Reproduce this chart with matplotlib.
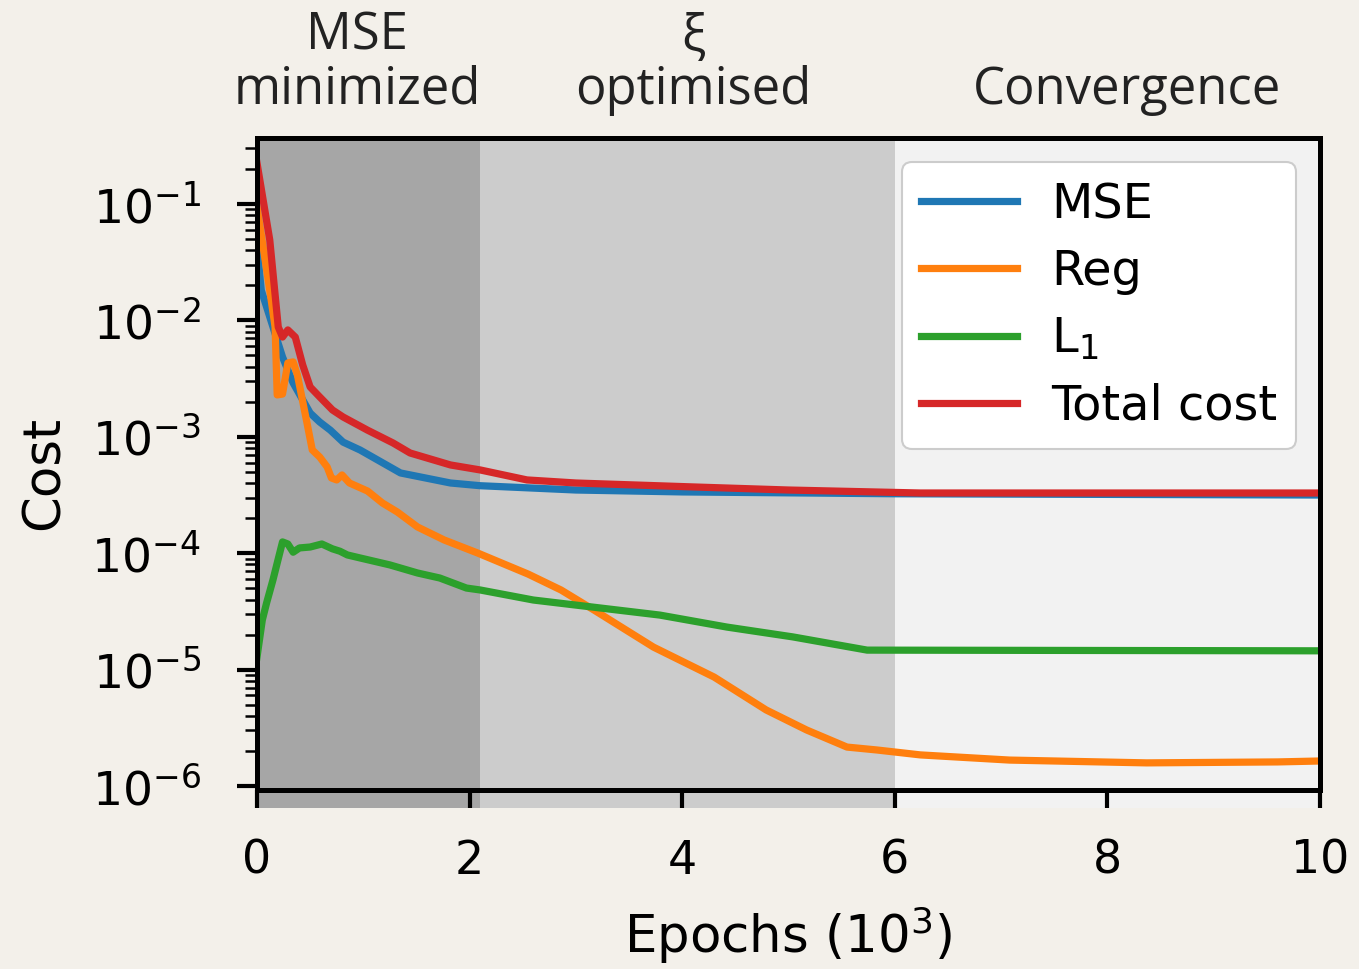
import matplotlib
matplotlib.use('Agg')
import matplotlib.pyplot as plt
from matplotlib.ticker import FixedLocator, LogLocator

# training curves, epochs in units of 10^3
epochs_mse = [0, 0.04, 0.24, 0.34, 0.5, 0.59, 0.69, 0.81, 0.97, 1.35, 1.82,
              2.1, 3.0, 4.0, 6.0, 10.0]
mse = [4.28e-2, 1.82e-2, 4.85e-3, 2.90e-3, 1.60e-3, 1.34e-3, 1.14e-3, 9.0e-4,
       7.7e-4, 4.89e-4, 4.01e-4, 3.80e-4, 3.49e-4, 3.36e-4, 3.24e-4, 3.16e-4]

epochs_reg = [0, 0.12, 0.17, 0.19, 0.24, 0.29, 0.34, 0.38, 0.47, 0.52, 0.59,
              0.66, 0.70, 0.75, 0.80, 0.87, 1.04, 1.18, 1.32, 1.51, 1.76, 2.08,
              2.55, 2.86, 3.17, 3.73, 4.30, 4.79, 5.17, 5.55, 5.83, 6.24, 7.08,
              8.37, 9.60, 10.0]
reg = [9.42e-2, 1.82e-2, 8.77e-3, 2.29e-3, 2.33e-3, 4.31e-3, 4.40e-3, 3.40e-3,
       1.32e-3, 7.71e-4, 6.70e-4, 5.51e-4, 4.43e-4, 4.26e-4, 4.70e-4, 4.01e-4,
       3.42e-4, 2.70e-4, 2.26e-4, 1.68e-4, 1.30e-4, 1.00e-4, 6.62e-5, 4.83e-5,
       3.25e-5, 1.56e-5, 8.63e-6, 4.50e-6, 3.03e-6, 2.16e-6, 2.04e-6, 1.85e-6,
       1.67e-6, 1.58e-6, 1.61e-6, 1.64e-6]

epochs_l1 = [0, 0.05, 0.09, 0.15, 0.24, 0.29, 0.34, 0.40, 0.50, 0.61, 0.71,
             0.78, 0.85, 0.97, 1.25, 1.51, 1.72, 1.97, 2.10, 2.60, 3.79, 4.42,
             5.04, 5.74, 10.0]
l1 = [1.28e-5, 2.67e-5, 3.73e-5, 5.89e-5, 1.25e-4, 1.20e-4, 1.02e-4, 1.11e-4,
      1.13e-4, 1.20e-4, 1.09e-4, 1.04e-4, 9.66e-5, 9.10e-5, 7.93e-5, 6.76e-5,
      6.12e-5, 5.02e-5, 4.83e-5, 3.96e-5, 2.94e-5, 2.32e-5, 1.91e-5, 1.47e-5,
      1.45e-5]

epochs_total = [0, 0.12, 0.20, 0.24, 0.29, 0.36, 0.43, 0.50, 0.59, 0.71, 0.81,
                1.04, 1.28, 1.44, 1.82, 2.10, 2.54, 3.00, 4.10, 5.00, 6.24,
                10.0]
total = [2.25e-1, 4.91e-2, 8.77e-3, 7.19e-3, 8.28e-3, 7.19e-3, 4.14e-3,
         2.68e-3, 2.20e-3, 1.70e-3, 1.48e-3, 1.14e-3, 8.85e-4, 7.26e-4,
         5.73e-4, 5.19e-4, 4.26e-4, 4.01e-4, 3.71e-4, 3.49e-4, 3.29e-4,
         3.29e-4]

phase_edges = [0, 2.1, 6.0, 10.0]
phase_shades = ['#a6a6a6', '#cccccc', '#f2f2f2']
phase_names = [('MSE', 'minimized'), ('ξ', 'optimised'), ('', 'Convergence')]

paper = '#f3f0ea'
ymin, ymax = 10 ** -6.189, 10 ** -0.433
yspine = 9.24e-7

plt.rcParams['font.size'] = 33

fig = plt.figure(figsize=(13.59, 9.69), dpi=100, facecolor=paper)
ax = fig.add_axes([257 / 1359, 1 - 808 / 969, 1063 / 1359, 670 / 969])
ax.set_facecolor('white')

for (a, b), shade in zip(zip(phase_edges[:-1], phase_edges[1:]), phase_shades):
    ax.axvspan(a, b, color=shade, lw=0, zorder=0)

lw = 5.2
ax.plot(epochs_mse, mse, color='tab:blue', lw=lw, label='MSE')
ax.plot(epochs_reg, reg, color='tab:orange', lw=lw, label='Reg')
ax.plot(epochs_l1, l1, color='tab:green', lw=lw, label='L$_1$')
ax.plot(epochs_total, total, color='tab:red', lw=lw, label='Total cost')

ax.set_yscale('log')
ax.set_xlim(0, 10)
ax.set_ylim(ymin, ymax)
ax.set_xticks([0, 2, 4, 6, 8, 10])
ax.yaxis.set_major_locator(LogLocator(base=10, numticks=20))
minor = [m * 10.0 ** e for e in range(-7, 0) for m in range(2, 10)]
ax.yaxis.set_minor_locator(FixedLocator([v for v in minor if yspine <= v <= ymax]))

for side in ax.spines.values():
    side.set_linewidth(3.6)
ax.spines['bottom'].set_position(('data', yspine))
ax.spines['left'].set_bounds(yspine, ymax)
ax.spines['right'].set_bounds(yspine, ymax)

ax.tick_params(axis='x', which='major', direction='out', length=13, width=3,
               pad=22, labelsize=33)
ax.tick_params(axis='y', which='major', direction='out', length=14.4, width=3,
               pad=26, labelsize=34)
ax.tick_params(axis='y', which='minor', direction='out', length=8.6, width=1.8)

ax.set_xlabel('Epochs (10$^3$)', fontsize=37, labelpad=15)
ax.set_ylabel('Cost', fontsize=37, labelpad=16)

leg = ax.legend(loc='upper right', fontsize=34.5, handlelength=2.0,
                handletextpad=0.7, labelspacing=0.42, borderaxespad=0.5,
                borderpad=0.4, framealpha=1, facecolor='white',
                edgecolor='#cccccc', fancybox=True)
leg.get_frame().set_linewidth(1.5)

# phase captions above the plot
label_x = [0.94, 4.1, 8.18]
for x, (top, bottom) in zip(label_x, phase_names):
    px = fig.transFigure.inverted().transform(ax.transData.transform((x, 1)))[0]
    if top:
        fig.text(px, 1 - 50 / 969, top, ha='center', va='baseline',
                 fontsize=36.5, family='Open Sans', color='#222222')
    fig.text(px, 1 - 104 / 969, bottom, ha='center', va='baseline',
             fontsize=36.5, family='Open Sans', color='#222222')

fig.savefig('out.png', dpi=100, facecolor=paper)
